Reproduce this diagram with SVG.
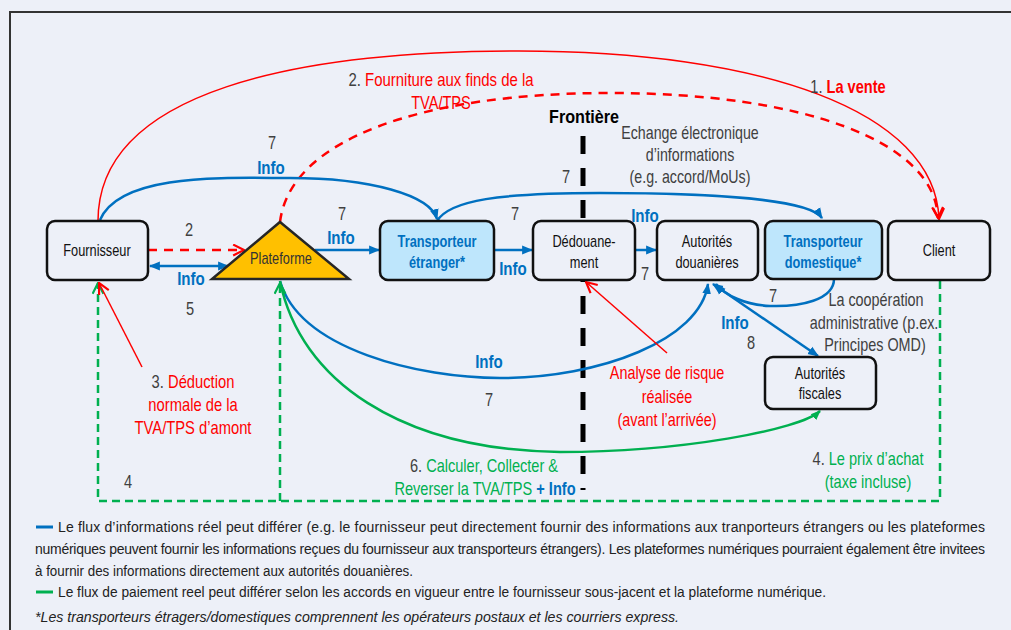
<svg xmlns="http://www.w3.org/2000/svg" width="1011" height="630" viewBox="0 0 1011 630">
<defs>
<style>
.t{font-family:'Liberation Sans',Arial,sans-serif;}
.n{font-size:16px;fill:#111;text-anchor:middle;}
.nb{font-size:16px;fill:#0070C0;font-weight:bold;text-anchor:middle;}
.a{font-size:18px;fill:#404040;text-anchor:middle;}
.r{fill:#FF0000;}
.g{fill:#00B050;}
.bl{fill:#0070C0;font-weight:bold;}
.info{font-size:18px;fill:#0070C0;font-weight:bold;text-anchor:middle;}
.lg{font-size:14px;fill:#222;}
.box{fill:#EDF0F8;stroke:#111;stroke-width:2.5;}
.tb{fill:#BEE6FC;stroke:#111;stroke-width:2.5;}
.cb{fill:none;stroke:#0070C0;stroke-width:2.5;}
.cr{fill:none;stroke:#FF0000;stroke-width:1.5;}
.crd{fill:none;stroke:#FF0000;stroke-width:2.5;stroke-dasharray:9 7;}
.cg{fill:none;stroke:#00B050;stroke-width:2.5;}
.cgd{fill:none;stroke:#00B050;stroke-width:2.5;stroke-dasharray:8 5;}
</style>
<marker id="ab" viewBox="0 0 10 10" refX="9" refY="5" markerWidth="11" markerHeight="11" markerUnits="userSpaceOnUse" orient="auto-start-reverse"><path d="M0,1 L10,5 L0,9 z" fill="#0070C0"/></marker>
<marker id="ar" viewBox="0 0 12 12" refX="11" refY="6" markerWidth="13" markerHeight="13" markerUnits="userSpaceOnUse" orient="auto"><path d="M1,1 L11,6 L1,11" fill="none" stroke="#FF0000" stroke-width="2"/></marker>
<marker id="ag" viewBox="0 0 12 12" refX="11" refY="6" markerWidth="13" markerHeight="13" markerUnits="userSpaceOnUse" orient="auto"><path d="M1,1 L11,6 L1,11" fill="none" stroke="#00B050" stroke-width="2"/></marker>
<marker id="agf" viewBox="0 0 10 10" refX="9" refY="5" markerWidth="10" markerHeight="10" markerUnits="userSpaceOnUse" orient="auto"><path d="M0,1 L10,5 L0,9 z" fill="#00B050"/></marker>
</defs>
<rect x="0" y="0" width="1011" height="630" fill="#EDF0F8"/>
<path d="M10,640 L10,12 L1020,12" fill="none" stroke="#333" stroke-width="2"/>

<g id="frontiere">
<line x1="583" y1="136" x2="583" y2="490" stroke="#000" stroke-width="5" stroke-dasharray="18 14"/>
<text class="t" transform="translate(584,123) scale(.85,1)" font-size="19" font-weight="bold" text-anchor="middle" fill="#000">Frontière</text>
</g>

<g id="connectors">
<path class="cr" d="M98,221 C98,90 300,51 519,51 C760,51 935,110 939,219" marker-end="url(#ar)"/>
<path class="crd" d="M280,222 C290,140 420,93 610,93 C800,93 935,140 938,218" marker-end="url(#ar)"/>
<path class="cb" d="M100,220 C120,172 230,178 290,178 C370,178 430,195 437,219" marker-end="url(#ab)"/>
<path class="cb" d="M437,221 C450,200 500,193 600,193 C720,193 810,200 822,218" marker-end="url(#ab)"/>
<line class="crd" x1="148" y1="250" x2="244" y2="250" marker-end="url(#ar)"/>
<line class="cb" x1="150" y1="266" x2="228" y2="266" marker-start="url(#ab)" marker-end="url(#ab)"/>
<line class="cb" x1="315" y1="250" x2="379" y2="250" marker-end="url(#ab)"/>
<line class="cb" x1="494" y1="250" x2="532" y2="250" marker-end="url(#ab)"/>
<line class="cb" x1="635" y1="250" x2="656" y2="250" marker-end="url(#ab)"/>
<path class="cb" d="M834,279 C834,300 800,307 770,306 C745,305 725,295 716,284" marker-end="url(#ab)"/>
<line class="cb" x1="713" y1="284" x2="818" y2="356" marker-start="url(#ab)" marker-end="url(#ab)"/>
<path class="cb" d="M280,281 C300,350 420,378 500,378 C600,378 700,340 708,284" marker-end="url(#ab)"/>
<path class="cg" d="M280,281 C300,380 400,450 560,452 C680,452 800,430 820,411" marker-end="url(#agf)"/>
<path class="cgd" d="M940,281 L940,501 L98,501 L98,283" marker-end="url(#ag)"/>
<path class="cgd" d="M280,501 L280,283" marker-end="url(#ag)"/>
<line class="cr" x1="142" y1="367" x2="99" y2="283" marker-end="url(#ar)"/>
<line class="cr" x1="667" y1="353" x2="586" y2="282" marker-end="url(#ar)"/>
</g>

<g id="fournisseur"><rect class="box" x="47" y="221" width="101" height="59" rx="8"/><text class="t n" transform="translate(97,256) scale(.8,1)">Fournisseur</text></g>
<g id="plateforme"><polygon points="280,222 349,279 212,279" fill="#FFC000" stroke="#262626" stroke-width="2.5"/><text class="t n" transform="translate(281,264) scale(.8,1)" style="fill:#333">Plateforme</text></g>
<g id="transporteur-etranger"><rect class="tb" x="380" y="221" width="114" height="59" rx="8"/><text class="t nb" transform="translate(437,247) scale(.8,1)">Transporteur</text><text class="t nb" transform="translate(437,268) scale(.8,1)">étranger*</text></g>
<g id="dedouanement"><rect class="box" x="533" y="221" width="102" height="59" rx="8"/><text class="t n" transform="translate(584,247) scale(.8,1)">Dédouane-</text><text class="t n" transform="translate(584,268) scale(.8,1)">ment</text></g>
<g id="autorites-douanieres"><rect class="box" x="657" y="221" width="101" height="59" rx="8"/><text class="t n" transform="translate(707,247) scale(.8,1)">Autorités</text><text class="t n" transform="translate(707,268) scale(.8,1)">douanières</text></g>
<g id="transporteur-domestique"><rect class="tb" x="765" y="221" width="117" height="58" rx="8"/><text class="t nb" transform="translate(823,247) scale(.8,1)">Transporteur</text><text class="t nb" transform="translate(823,268) scale(.8,1)">domestique*</text></g>
<g id="client"><rect class="box" x="888" y="221" width="102" height="59" rx="8"/><text class="t n" transform="translate(939,256) scale(.8,1)">Client</text></g>
<g id="autorites-fiscales"><rect class="box" x="765" y="357" width="111" height="52" rx="8"/><text class="t n" transform="translate(820,379) scale(.8,1)">Autorités</text><text class="t n" transform="translate(820,399) scale(.8,1)">fiscales</text></g>

<g id="labels">
<text class="t a" transform="translate(441,86) scale(.83,1)">2. <tspan class="r">Fourniture aux finds de la</tspan></text>
<text class="t a r" transform="translate(441,109) scale(.81,1)">TVA/TPS</text>
<text class="t a" transform="translate(848,93) scale(.81,1)">1. <tspan class="r" font-weight="bold">La vente</tspan></text>
<text class="t a" transform="translate(690,139) scale(.79,1)">Echange électronique</text>
<text class="t a" transform="translate(690,161) scale(.79,1)">d’informations</text>
<text class="t a" transform="translate(690,183) scale(.79,1)">(e.g. accord/MoUs)</text>
<text class="t a" transform="translate(272,149) scale(.81,1)">7</text>
<text class="t info" transform="translate(271,174) scale(.84,1)">Info</text>
<text class="t a" transform="translate(566,183) scale(.81,1)">7</text>
<text class="t a" transform="translate(515,220) scale(.81,1)">7</text>
<text class="t info" transform="translate(645,222) scale(.84,1)">Info</text>
<text class="t a" transform="translate(189,236) scale(.81,1)">2</text>
<text class="t a" transform="translate(342,220) scale(.81,1)">7</text>
<text class="t info" transform="translate(341,244) scale(.84,1)">Info</text>
<text class="t info" transform="translate(191,285) scale(.84,1)">Info</text>
<text class="t a" transform="translate(190,315) scale(.81,1)">5</text>
<text class="t info" transform="translate(513,275) scale(.84,1)">Info</text>
<text class="t a" transform="translate(645,280) scale(.81,1)">7</text>
<text class="t a" transform="translate(773,302) scale(.81,1)">7</text>
<text class="t a" transform="translate(876,306) scale(.8,1)">La coopération</text>
<text class="t a" transform="translate(874,329) scale(.8,1)">administrative (p.ex.</text>
<text class="t a" transform="translate(875,351) scale(.8,1)">Principes OMD)</text>
<text class="t info" transform="translate(735,329) scale(.84,1)">Info</text>
<text class="t a" transform="translate(751,349) scale(.81,1)">8</text>
<text class="t info" transform="translate(489,368) scale(.84,1)">Info</text>
<text class="t a" transform="translate(489,406) scale(.81,1)">7</text>
<text class="t a" transform="translate(193,388) scale(.82,1)">3. <tspan class="r">Déduction</tspan></text>
<text class="t a r" transform="translate(193,411) scale(.82,1)">normale de la</text>
<text class="t a r" transform="translate(193,434) scale(.82,1)">TVA/TPS d’amont</text>
<text class="t a r" transform="translate(667,379) scale(.8,1)">Analyse de risque</text>
<text class="t a r" transform="translate(667,403) scale(.8,1)">réalisée</text>
<text class="t a r" transform="translate(667,426) scale(.8,1)">(avant l’arrivée)</text>
<text class="t a" transform="translate(868,465) scale(.81,1)">4. <tspan class="g">Le prix d’achat</tspan></text>
<text class="t a g" transform="translate(868,488) scale(.81,1)">(taxe incluse)</text>
<text class="t a" transform="translate(484,472) scale(.81,1)">6. <tspan class="g">Calculer, Collecter &amp;</tspan></text>
<text class="t a" transform="translate(485,495) scale(.81,1)"><tspan class="g">Reverser la TVA/TPS</tspan> <tspan class="bl">+ Info</tspan></text>
<text class="t a" transform="translate(128,488) scale(.81,1)">4</text>
</g>

<g id="legend">
<line x1="36" y1="527" x2="53" y2="527" stroke="#0070C0" stroke-width="3"/>
<text class="t lg" x="58" y="532" textLength="927" lengthAdjust="spacing">Le flux d’informations réel peut différer (e.g. le fournisseur peut directement fournir des informations aux tranporteurs étrangers ou les plateformes</text>
<text class="t lg" x="35" y="554" textLength="950" lengthAdjust="spacing">numériques peuvent fournir les informations reçues du fournisseur aux transporteurs étrangers). Les plateformes numériques pourraient également être invitees</text>
<text class="t lg" x="35" y="576" textLength="378" lengthAdjust="spacingAndGlyphs">à fournir des informations directement aux autorités douanières.</text>
<line x1="36" y1="592" x2="53" y2="592" stroke="#00B050" stroke-width="3"/>
<text class="t lg" x="58" y="597" textLength="768" lengthAdjust="spacingAndGlyphs">Le flux de paiement reel peut différer selon les accords en vigueur entre le fournisseur sous-jacent et la plateforme numérique.</text>
<text class="t lg" x="35" y="622" font-style="italic" textLength="644" lengthAdjust="spacingAndGlyphs">*Les transporteurs étragers/domestiques comprennent les opérateurs postaux et les courriers express.</text>
</g>
</svg>
